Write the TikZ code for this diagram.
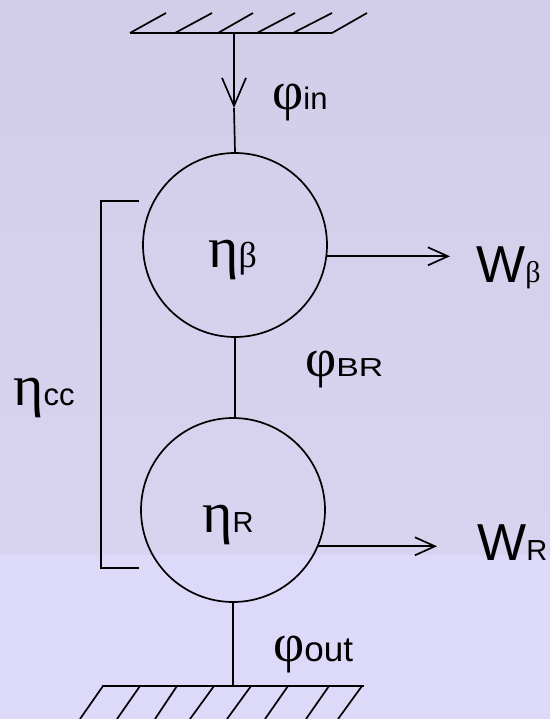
\documentclass[tikz,border=0pt]{standalone}
\usepackage{fontspec}
\usepackage{graphicx}
\setmainfont{Liberation Sans}
\newfontfamily\grk{Liberation Serif}
\usetikzlibrary{arrows.meta}
\newcommand\mygk[2]{{\fontsize{#1}{#1}\grk #2}}
\newcommand\mylt[2]{{\fontsize{#1}{#1}\selectfont #2}}
\definecolor{bgtop}{RGB}{210,206,234}
\definecolor{bgmid}{RGB}{216,212,240}
\definecolor{bgbot}{RGB}{221,217,248}
\begin{document}
\begin{tikzpicture}[x=1pt,y=-1pt,
  ln/.style={line width=1.7pt,black},
  circ/.style={circle,draw,line width=1.7pt,minimum size=184pt,inner sep=0pt},
  lbl/.style={anchor=base west,inner sep=0pt,text=black},
  barbV/.style={ln,-{Straight Barb[length=28pt,width=24pt,line width=1.7pt]}},
  barbH/.style={ln,-{Straight Barb[length=20pt,width=18pt,line width=1.7pt]}}]
\useasboundingbox (0,0) rectangle (550,719);
% background
\shade[top color=bgtop,bottom color=bgmid] (0,0) rectangle (550,555);
\fill[bgbot] (0,555) rectangle (550,719);
% circles
\node[circ] (cb) at (235,245) {};
\node[circ] (cr) at (233,510) {};
% top ground
\coordinate (gtop) at (234,33);
\coordinate (vtip) at (234,108);
\draw[ln] (130,33) -- (332,33);
\draw[ln] (130,33) -- (166,13) (175,33) -- (212,13) (218,33) -- (253,13)
  (257,33) -- (295,13) (293,33) -- (332,13) (332,33) -- (367,13);
\draw[barbV] (gtop) -- (vtip);
\draw[ln] (vtip) -- (cb.north);
% middle link
\draw[ln] (cb.south) -- (cb.south |- cr.north);
% bottom ground
\coordinate (gbot) at (231,686);
\draw[ln] (cr.south) -- (cr.south |- gbot);
\draw[ln] (102,686) -- (364,686);
\draw[ln] (103,686) -- (80,719) (140,686) -- (117,719) (177,686) -- (155,719)
  (214,686) -- (190,719) (251,686) -- (227,719) (288,686) -- (265,719)
  (329,686) -- (306,719) (362,686) -- (338,719);
% outputs
\coordinate (wbt) at (450,257);
\coordinate (wrt) at (437,546);
\draw[barbH] (cb.-7.5) -- (cb.-7.5 -| wbt);
\draw[barbH] (cr.-23) -- (cr.-23 -| wrt);
% bracket
\coordinate (bt) at (139,201);
\coordinate (bb) at (139,568);
\draw[ln] (bt) -- (101,201) -- (101,568) -- (bb);
% labels
\node[lbl] (phin) at (272,110) {\mygk{54}{φ}\mylt{31}{in}};
\node[lbl] (etab) at (208,267) {\mygk{58}{η}\mygk{36}{β}};
\node[lbl] (wb) at (476,282) {\mylt{52}{W}\mygk{30}{β}};
\node[lbl] (phbr) at (305,376) {\mygk{54}{φ}\scalebox{1.3}[1]{\mylt{26}{BR}}};
\node[lbl] (etacc) at (13,405) {\mygk{58}{η}\mylt{31}{cc}};
\node[lbl] (etar) at (202,532) {\mygk{58}{η}\mylt{29}{R}};
\node[lbl] (wr) at (477,560) {\mylt{52}{W}\mylt{29}{R}};
\node[lbl] (phout) at (273,661) {\mygk{54}{φ}\mylt{35}{out}};
\end{tikzpicture}
\end{document}
